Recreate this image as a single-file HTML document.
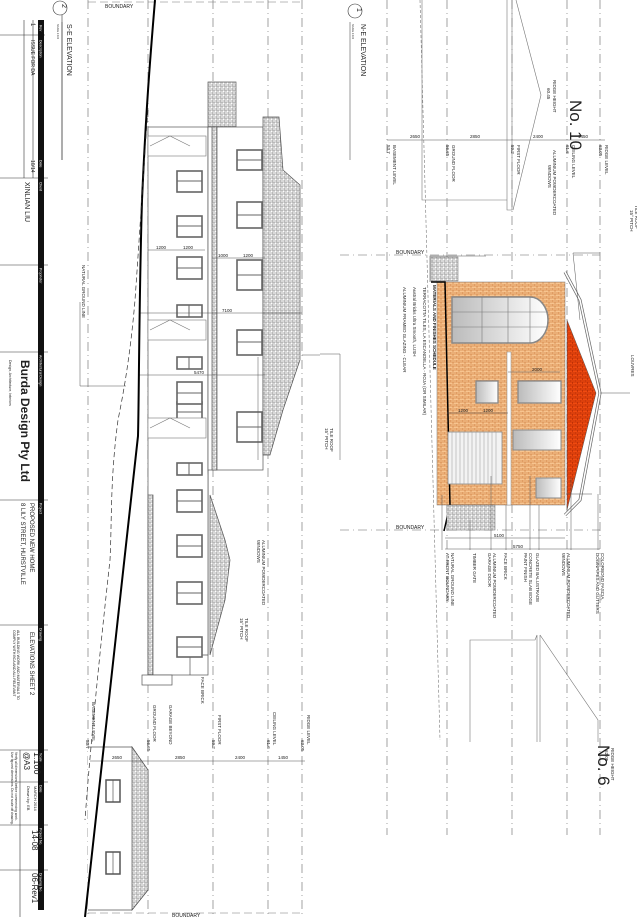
<!DOCTYPE html>
<html><head><meta charset="utf-8"><style>
html,body{margin:0;padding:0;background:#fff}
svg{display:block}
text{font-family:"Liberation Sans",sans-serif;fill:#222}
</style></head><body>
<svg width="637" height="917" viewBox="0 0 637 917" xmlns="http://www.w3.org/2000/svg">
<defs>
<pattern id="brk" width="6" height="4" patternUnits="userSpaceOnUse">
<rect width="6" height="4" fill="#f7c48f"/>
<path d="M0 0H6M0 2H6M0 0V2M3 2V4" stroke="#c46a2a" stroke-width="0.5"/>
</pattern>
<pattern id="rbrk" width="5" height="4" patternUnits="userSpaceOnUse">
<rect width="5" height="4" fill="#f04a10"/>
<path d="M0 0H5M0 2H5M0 0V2M2.5 2V4" stroke="#a02000" stroke-width="0.5"/>
</pattern>
<pattern id="tile" width="4" height="4" patternUnits="userSpaceOnUse">
<rect width="4" height="4" fill="#fff"/>
<path d="M0 0H4M0 0V4M2 2V4M0 2H4" stroke="#666" stroke-width="0.55"/>
</pattern>
<linearGradient id="gl" x1="0" x2="1"><stop offset="0" stop-color="#bbb"/><stop offset="1" stop-color="#fff"/></linearGradient>
</defs>

<!-- Title block -->
<g stroke="#333" stroke-width="0.6" fill="none">
<line x1="0" y1="35" x2="45" y2="35"/>
<line x1="24" y1="20" x2="24" y2="178"/>
<line x1="33" y1="20" x2="33" y2="178"/>
<line x1="0" y1="178" x2="48" y2="178"/>
<line x1="0" y1="265" x2="48" y2="265"/>
<line x1="0" y1="352" x2="48" y2="352"/>
<line x1="0" y1="500" x2="48" y2="500"/>
<line x1="0" y1="625" x2="48" y2="625"/>
<line x1="0" y1="750" x2="48" y2="750"/>
<line x1="20" y1="750" x2="20" y2="917"/>
<line x1="0" y1="782" x2="48" y2="782"/>
<line x1="0" y1="825" x2="48" y2="825"/>
<line x1="0" y1="870" x2="48" y2="870"/>
<line x1="62" y1="15" x2="62" y2="160"/>
</g>
<rect x="38" y="20" width="6" height="890" fill="#111"/>
<g font-size="3.5" fill="#fff">
<text transform="translate(39.5,25) rotate(90)" style="fill:#fff">Rev</text>
<text transform="translate(39.5,40) rotate(90)" style="fill:#fff">Description</text>
<text transform="translate(39.5,160) rotate(90)" style="fill:#fff">Date</text>
<text transform="translate(39.5,182) rotate(90)" style="fill:#fff">Client</text>
<text transform="translate(39.5,268) rotate(90)" style="fill:#fff">Proprietor</text>
<text transform="translate(39.5,355) rotate(90)" style="fill:#fff">Architectural Design</text>
<text transform="translate(39.5,503) rotate(90)" style="fill:#fff">Project</text>
<text transform="translate(39.5,628) rotate(90)" style="fill:#fff">Drawing</text>
<text transform="translate(39.5,753) rotate(90)" style="fill:#fff">Scale</text>
<text transform="translate(39.5,785) rotate(90)" style="fill:#fff">Date</text>
<text transform="translate(39.5,828) rotate(90)" style="fill:#fff">Project No.</text>
<text transform="translate(39.5,873) rotate(90)" style="fill:#fff">Drawing No.</text>
</g>
<g font-size="6">
<text transform="translate(31,23) rotate(90)">1</text>
<text transform="translate(31,40) rotate(90)" font-size="5">ISSUE FOR DA</text>
<text transform="translate(31,160) rotate(90)" font-size="5">10/14</text>
<text transform="translate(25,182) rotate(90)" font-size="7">XINLIAN LIU</text>
<text transform="translate(21,360) rotate(90)" font-size="12" font-weight="bold">Burda Design Pty Ltd</text>
<text transform="translate(9,360) rotate(90)" font-size="3.5">Design, Architecture, Interiors</text>
<text transform="translate(30,503) rotate(90)" font-size="6">PROPOSED NEW HOME</text>
<text transform="translate(21,503) rotate(90)" font-size="6">8 LILY STREET, HURSTVILLE</text>
<text transform="translate(30,632) rotate(90)" font-size="6">ELEVATIONS SHEET 2</text>
<text transform="translate(17,630) rotate(90)" font-size="3.5">ALL BUILDING WORK AND MATERIALS TO</text>
<text transform="translate(13,630) rotate(90)" font-size="3.5">COMPLY WITH  BCA AND ALL RELEVANT</text>
<text transform="translate(34,752) rotate(90)" font-size="9">1:100</text>
<text transform="translate(24,752) rotate(90)" font-size="8">@A3</text>
<text transform="translate(34,786) rotate(90)" font-size="4">MARCH 2014</text>
<text transform="translate(27,786) rotate(90)" font-size="4">Drawn by: EB</text>
<text transform="translate(15,752) rotate(90)" font-size="3.3">Verify all dimensions before commencing work.</text>
<text transform="translate(11,752) rotate(90)" font-size="3.3">Use figured dimensions. Do not scale off drawing.</text>
<text transform="translate(32,830) rotate(90)" font-size="8">14-08</text>
<text transform="translate(32,873) rotate(90)" font-size="8">06-Rev1</text>
</g>

<!-- SE elevation heading -->
<circle cx="60" cy="8" r="7" fill="none" stroke="#333" stroke-width="0.6"/>
<text transform="translate(62,4) rotate(90)" font-size="7">2</text>
<text transform="translate(67,24) rotate(90)" font-size="7">S-E ELEVATION</text>
<text transform="translate(57,24) rotate(90)" font-size="2.5">SCALE 1:100</text>
<line x1="62" y1="22" x2="62" y2="160" stroke="#333" stroke-width="0.5"/>

<!-- SE dashed level lines -->
<g stroke="#666" stroke-width="0.6" stroke-dasharray="9,4,1,4" fill="none">
<line x1="88" y1="0" x2="88" y2="917"/>
<line x1="148" y1="0" x2="148" y2="917"/>
<line x1="213" y1="0" x2="213" y2="917"/>
<line x1="268" y1="0" x2="268" y2="917"/>
<line x1="302" y1="0" x2="302" y2="917"/>
</g>
<line x1="88" y1="2" x2="300" y2="2" stroke="#777" stroke-width="0.5" stroke-dasharray="8,4"/>
<text x="105" y="8" font-size="5">BOUNDARY</text>
<line x1="88" y1="913" x2="300" y2="913" stroke="#777" stroke-width="0.5" stroke-dasharray="8,4"/>
<text x="172" y="917" font-size="5">BOUNDARY</text>

<!-- SE building -->
<g stroke="#555" stroke-width="0.7" fill="#fff">
<rect x="208" y="82" width="28" height="45" fill="url(#tile)"/>
<rect x="148" y="127" width="60" height="548"/>
<rect x="208" y="127" width="55" height="343"/>
<rect x="212" y="127" width="5" height="343" fill="url(#tile)"/>
<rect x="148" y="495" width="5" height="180" fill="url(#tile)"/>
<path d="M263 117 L279 117 L283 170 L300 185 L300 360 L283 410 L270 455 L263 455 Z" fill="url(#tile)"/>
<path d="M210 495 L225 540 L230 560 L225 600 L210 655 Z" fill="url(#tile)"/>
<rect x="142" y="675" width="30" height="10"/>
<path d="M208 470 L208 655 L190 655 L190 675"/>
<!-- garage beyond -->
<path d="M88 910 L132 910 L148 890 L148 770 L132 747 L88 747" />
<path d="M132 747 L148 770 L148 890 L132 910 Z" fill="url(#tile)"/>
<rect x="106" y="780" width="14" height="22" stroke-width="1.5"/>
<rect x="106" y="852" width="14" height="22" stroke-width="1.5"/>
<line x1="113" y1="780" x2="113" y2="802"/><line x1="113" y1="852" x2="113" y2="874"/>
</g>
<!-- SE windows -->
<g stroke="#666" stroke-width="1.6" fill="#fff">
<rect x="177" y="171" width="25" height="21"/><rect x="177" y="216" width="25" height="21"/>
<rect x="177" y="257" width="25" height="22"/><rect x="177" y="402" width="25" height="21"/>
<rect x="177" y="382" width="25" height="22"/><rect x="177" y="490" width="25" height="22"/>
<rect x="177" y="535" width="25" height="22"/><rect x="177" y="582" width="25" height="22"/>
<rect x="177" y="637" width="25" height="20"/><rect x="177" y="305" width="25" height="12"/>
<rect x="177" y="357" width="25" height="12"/><rect x="177" y="463" width="25" height="12"/>
<rect x="237" y="150" width="25" height="20"/><rect x="237" y="202" width="25" height="26"/>
<rect x="237" y="260" width="25" height="30"/><rect x="237" y="330" width="25" height="25"/>
<rect x="237" y="412" width="25" height="30"/>
</g>
<g stroke="#666" stroke-width="1">
<path d="M177 181H202M177 226H202M177 268H202M177 412H202M177 393H202M177 501H202M177 546H202M177 593H202M177 647H202M189 305V317M189 357V369M189 463V475M237 160H262M237 215H262M237 275H262M237 342H262M237 427H262"/>
</g>
<g stroke="#777" stroke-width="0.6" fill="#fff">
<rect x="148" y="136" width="58" height="20"/><rect x="148" y="320" width="58" height="20"/>
<rect x="148" y="418" width="58" height="20"/>
<path d="M150 146 L170 136 L190 146 M150 330 L170 320 L190 330 M150 428 L170 418 L190 428"/>
</g>
<!-- dims -->
<g stroke="#555" stroke-width="0.5">
<line x1="148" y1="250" x2="205" y2="250"/><line x1="212" y1="258" x2="265" y2="258"/>
<line x1="140" y1="313" x2="302" y2="313"/><line x1="138" y1="375" x2="265" y2="375"/>
<line x1="80" y1="302" x2="80" y2="386"/><line x1="80" y1="386" x2="126" y2="386"/>
<line x1="258" y1="357" x2="258" y2="460"/><line x1="302" y1="355" x2="320" y2="355"/>
</g>
<g font-size="4.5">
<text x="156" y="249">1200</text><text x="183" y="249">1200</text>
<text x="218" y="257">1000</text><text x="243" y="257">1200</text>
<text x="222" y="312">7100</text><text x="194" y="374">5470</text>
<text transform="translate(82,265) rotate(90)">NATURAL GROUND LINE</text>
<text transform="translate(262,540) rotate(90)">ALUMINIUM POWDERCOATED</text>
<text transform="translate(257,540) rotate(90)">WINDOWS</text>
<text transform="translate(245,618) rotate(90)">TILE ROOF</text>
<text transform="translate(240,618) rotate(90)">15° PITCH</text>
<text transform="translate(201,677) rotate(90)">FACE BRICK</text>
<text transform="translate(169,705) rotate(90)">GARAGE BEYOND</text>
<text transform="translate(330,428) rotate(90)">TILE ROOF</text>
<text transform="translate(325,428) rotate(90)">15° PITCH</text>
</g>
<line x1="90" y1="761" x2="305" y2="761" stroke="#555" stroke-width="0.5"/>
<g font-size="4.5">
<text x="112" y="759">2650</text><text x="175" y="759">2850</text><text x="235" y="759">2400</text><text x="278" y="759">1450</text>
<text transform="translate(92,702) rotate(90)">BASEMENT LEVEL</text><text transform="translate(86,740) rotate(90)">53.7</text>
<text transform="translate(153,705) rotate(90)">GROUND FLOOR</text><text transform="translate(147,740) rotate(90)">56.65</text>
<text transform="translate(218,715) rotate(90)">FIRST FLOOR</text><text transform="translate(212,740) rotate(90)">59.2</text>
<text transform="translate(273,712) rotate(90)">CEILING LEVEL</text><text transform="translate(267,740) rotate(90)">61.6</text>
<text transform="translate(307,715) rotate(90)">RIDGE LEVEL</text><text transform="translate(301,740) rotate(90)">63.05</text>
</g>
<!-- ground lines -->
<path d="M155 0 C150 60 146 110 142 200 C139 300 139 400 138 436 C130 520 115 650 85 917" stroke="#000" stroke-width="2" fill="none"/>
<path d="M148 110 C144 160 140 230 135 300 C130 360 122 400 118 420 C110 480 112 520 110 560 C100 650 90 750 85 820" stroke="#333" stroke-width="0.7" stroke-dasharray="5,3" fill="none"/>

<!-- NE elevation -->
<circle cx="355" cy="11" r="7" fill="none" stroke="#333" stroke-width="0.6"/>
<text transform="translate(357,8) rotate(90)" font-size="7">1</text>
<text transform="translate(361,24) rotate(90)" font-size="7">N-E ELEVATION</text>
<text transform="translate(352,24) rotate(90)" font-size="2.5">SCALE 1:100</text>
<line x1="350" y1="22" x2="350" y2="160" stroke="#333" stroke-width="0.5"/>
<g stroke="#666" stroke-width="0.6" stroke-dasharray="9,4,1,4" fill="none">
<line x1="387" y1="0" x2="387" y2="835"/><line x1="447" y1="0" x2="447" y2="835"/>
<line x1="512" y1="0" x2="512" y2="835"/><line x1="567" y1="0" x2="567" y2="835"/>
<line x1="600" y1="0" x2="600" y2="835"/>
</g>
<line x1="387" y1="140" x2="605" y2="140" stroke="#555" stroke-width="0.5"/>
<g font-size="4.5">
<text x="410" y="138">2650</text><text x="470" y="138">2850</text><text x="533" y="138">2400</text><text x="578" y="138">1450</text>
<text transform="translate(393,145) rotate(90)">BASEMENT LEVEL</text><text transform="translate(387,145) rotate(90)">53.7</text>
<text transform="translate(452,145) rotate(90)">GROUND FLOOR</text><text transform="translate(446,145) rotate(90)">56.65</text>
<text transform="translate(517,145) rotate(90)">FIRST FLOOR</text><text transform="translate(511,145) rotate(90)">59.2</text>
<text transform="translate(572,145) rotate(90)">CEILING LEVEL</text><text transform="translate(566,145) rotate(90)">61.6</text>
<text transform="translate(605,145) rotate(90)">RIDGE LEVEL</text><text transform="translate(599,145) rotate(90)">63.05</text>
<text transform="translate(553,150) rotate(90)">ALUMINIUM POWDERCOATED</text><text transform="translate(548,165) rotate(90)">WINDOWS</text>
<text transform="translate(635,205) rotate(90)">TILE ROOF</text><text transform="translate(630,210) rotate(90)">15° PITCH</text>
<text transform="translate(553,80) rotate(90)">RIDGE HEIGHT</text><text transform="translate(547,88) rotate(90)">60.45</text>
<text transform="translate(611,748) rotate(90)">RIDGE HEIGHT</text><text transform="translate(605,750) rotate(90)">62.05</text>
</g>
<text transform="translate(570,100) rotate(90)" font-size="17">No. 10</text>
<text transform="translate(598,745) rotate(90)" font-size="17">No. 6</text>
<!-- neighbours -->
<g stroke="#777" stroke-width="0.6" fill="none">
<path d="M422 0 V200 H507 M507 0 V210 H512 V0"/>
<path d="M516 0 L541 95 L513 210"/>
<path d="M537 635 L535 640 H470 V742 M537 635 V742 M540 635 V742 M540 635 L598 720 V742"/>
<path d="M420 0 L440 740" stroke-dasharray="3,2"/>
</g>
<!-- NE house -->
<line x1="340" y1="255" x2="600" y2="255" stroke="#666" stroke-width="0.6" stroke-dasharray="9,4,1,4"/>
<line x1="340" y1="530" x2="600" y2="530" stroke="#666" stroke-width="0.6" stroke-dasharray="9,4,1,4"/>
<text x="396" y="254" font-size="5">BOUNDARY</text><text x="396" y="529" font-size="5">BOUNDARY</text>
<rect x="431" y="257" width="27" height="24" fill="url(#tile)" stroke="#666" stroke-width="0.5"/>
<path d="M486 256 H430 V282" stroke="#555" fill="none" stroke-width="0.6"/>
<rect x="437" y="282" width="128" height="223" fill="url(#brk)" stroke="#777" stroke-width="0.5"/>
<path d="M431 282 L445 282 L450 505 L444 531" stroke="#000" stroke-width="1.5" fill="none"/>
<rect x="447" y="505" width="48" height="25" fill="url(#tile)" stroke="#666" stroke-width="0.5"/>
<path d="M565 272 L580 300 L600 393 L580 500 L565 515" fill="none" stroke="#666" stroke-width="3"/>
<path d="M565 272 L580 300 L600 393 L580 500 L565 515" fill="none" stroke="#fff" stroke-width="1.6"/>
<path d="M567 320 L596 393 L567 510 Z" fill="url(#rbrk)" stroke="#555" stroke-width="0.5"/>
<!-- big arched window -->
<path d="M452 297 H530 A18 23 0 0 1 530 343 H452 Z" fill="url(#gl)" stroke="#888" stroke-width="1.5"/>
<g stroke="#777" stroke-width="0.6"><line x1="452" y1="312" x2="548" y2="312"/><line x1="452" y1="327" x2="548" y2="327"/><line x1="482" y1="297" x2="482" y2="343"/><line x1="508" y1="297" x2="508" y2="343"/><line x1="530" y1="297" x2="530" y2="343"/></g>
<rect x="507" y="352" width="4" height="153" fill="#fff" stroke="#888" stroke-width="0.5"/>
<rect x="476" y="381" width="22" height="22" fill="url(#gl)" stroke="#888" stroke-width="1.3"/>
<rect x="518" y="381" width="43" height="22" fill="url(#gl)" stroke="#888" stroke-width="1.3"/>
<rect x="448" y="432" width="54" height="52" fill="#f3f3f3" stroke="#888" stroke-width="0.8"/>
<g stroke="#999" stroke-width="0.5"><path d="M452 432V484M456 432V484M460 432V484M464 432V484M468 432V484M472 432V484M476 432V484M480 432V484M484 432V484M488 432V484M492 432V484M496 432V484"/></g>
<rect x="513" y="430" width="48" height="20" fill="url(#gl)" stroke="#888" stroke-width="1"/>
<rect x="536" y="478" width="25" height="20" fill="url(#gl)" stroke="#888" stroke-width="1"/>
<!-- NE dims -->
<g stroke="#555" stroke-width="0.5" fill="none">
<line x1="445" y1="538" x2="565" y2="538"/><line x1="445" y1="549" x2="600" y2="549"/>
<line x1="508" y1="372" x2="560" y2="372"/><line x1="447" y1="413" x2="508" y2="413"/>
<line x1="573" y1="253" x2="580" y2="320"/><line x1="573" y1="253" x2="600" y2="253"/>
<line x1="600" y1="393" x2="630" y2="393"/><line x1="566" y1="494" x2="592" y2="494"/>
<line x1="340" y1="354" x2="340" y2="460"/><line x1="320" y1="354" x2="340" y2="354"/>
</g>
<g font-size="4.5">
<text x="494" y="537">5100</text><text x="513" y="548">5750</text>
<text x="532" y="371">2000</text><text x="458" y="412">1200</text><text x="483" y="412">1200</text>
<text transform="translate(433,285) rotate(90)" font-size="4.5" font-weight="bold">MATERIALS AND FINISHES SCHEDULE</text>
<text transform="translate(423,287) rotate(90)">TERRACOTTA TILES, LA ESCANDELLA - ROJA (OR SIMILAR)</text>
<text transform="translate(413,287) rotate(90)">Austral Bricks Ultra Smooth, LUSH</text>
<text transform="translate(403,287) rotate(90)">ALUMINIUM FRAMED GLAZING - CLEAR</text>
<text transform="translate(631,355) rotate(90)">LOUVRES</text>
<text transform="translate(601,553) rotate(90)">COLORBOND FASCIA,</text><text transform="translate(596,553) rotate(90)">DOWNPIPES AND GUTTERS</text>
<text transform="translate(567,553) rotate(90)">ALUMINIUM POWDERCOATED</text><text transform="translate(562,553) rotate(90)">WINDOWS</text>
<text transform="translate(536,553) rotate(90)">GLAZED BALUSTRADE</text>
<text transform="translate(529,553) rotate(90)">CONCRETE SLAB EDGE</text><text transform="translate(524,553) rotate(90)">PAINT FINISH</text>
<text transform="translate(504,553) rotate(90)">FACE BRICK</text>
<text transform="translate(493,553) rotate(90)">ALUMINIUM POWDERCOATED</text><text transform="translate(488,553) rotate(90)">GARAGE DOOR</text>
<text transform="translate(473,553) rotate(90)">TIMBER GATE</text>
<text transform="translate(451,553) rotate(90)">NATURAL GROUND LINE</text><text transform="translate(446,553) rotate(90)">AT FRONT BOUNDARY</text>
</g>
<g stroke="#555" stroke-width="0.5">
<line x1="598" y1="494" x2="598" y2="550"/><line x1="571" y1="478" x2="571" y2="550"/>
<line x1="539" y1="505" x2="539" y2="550"/><line x1="530" y1="476" x2="530" y2="550"/>
<line x1="506" y1="505" x2="506" y2="550"/><line x1="491" y1="476" x2="491" y2="550"/>
<line x1="470" y1="520" x2="470" y2="550"/><line x1="442" y1="495" x2="442" y2="550"/>
</g>
</svg>
</body></html>
